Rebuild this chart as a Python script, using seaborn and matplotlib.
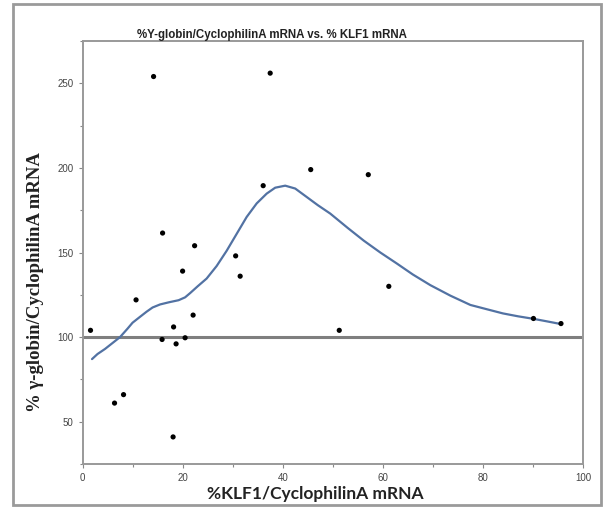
import pandas as pd
import seaborn as sns
import matplotlib.pyplot as plt
from matplotlib.patches import Rectangle
from matplotlib.ticker import MultipleLocator

# scatter points
klf1 = [14.2, 37.5, 45.6, 36.1, 16.0, 22.4, 30.6, 57.1, 61.2, 51.3, 90.1, 95.6,
        31.5, 20.0, 10.7, 22.1, 1.6, 18.2, 15.9, 18.7, 20.5, 8.2, 6.4, 18.1]
globin = [254, 256, 199, 189.5, 161.5, 154, 148, 196, 130, 104, 111, 108,
          136, 139, 122, 113, 104, 106, 98.6, 96, 99.6, 66, 61, 41]

# smooth fitted curve
curve_x = [1.9, 3.0, 4.5, 6.0, 7.5, 9.0, 10.0, 11.5, 12.8, 14.0, 15.5, 17.3,
           19.2, 20.5, 21.5, 23.0, 24.8, 26.8, 28.8, 30.8, 32.8, 34.8, 36.8,
           38.5, 40.5, 42.5, 44.8, 47.0, 49.5, 53.0, 56.2, 59.5, 62.8, 66.0,
           69.5, 73.5, 77.5, 81.0, 84.0, 87.0, 90.1, 92.8, 95.6]
curve_y = [87, 90, 93, 96.5, 100, 105, 108.5, 112, 115, 117.5, 119.3, 120.6,
           121.8, 123.5, 126, 130, 134.6, 142, 151, 161, 171, 179, 184.8,
           188.3, 189.5, 187.8, 182.8, 178, 173, 164.5, 157, 150, 143.5, 137,
           130.7, 124.5, 119, 116.3, 114, 112.3, 110.8, 109.3, 107.7]

pts = pd.DataFrame({'klf1': klf1, 'globin': globin})
fit = pd.DataFrame({'x': curve_x, 'y': curve_y})

sns.set_style('white')
plt.rcParams['font.family'] = ['Liberation Sans', 'DejaVu Sans']

fig = plt.figure(figsize=(6.1, 5.08), dpi=100)
ax = fig.add_axes([82.5 / 610, 1 - 464 / 508, 500.5 / 610, 423 / 508])

ax.axhline(100, color='#7f7f7f', lw=2.2, zorder=1)
sns.lineplot(data=fit, x='x', y='y', ax=ax, color='#5272a3', lw=1.6, zorder=2)
sns.scatterplot(data=pts, x='klf1', y='globin', ax=ax, color='black', s=14,
                edgecolor='none', zorder=3)

ax.set_xlim(0, 100)
ax.set_ylim(25, 275)
ax.xaxis.set_major_locator(MultipleLocator(20))
ax.xaxis.set_minor_locator(MultipleLocator(10))
ax.yaxis.set_major_locator(MultipleLocator(50))
ax.yaxis.set_minor_locator(MultipleLocator(25))
ax.set_yticks([50, 100, 150, 200, 250])
ax.tick_params(which='both', direction='out', length=3, width=0.8,
               color='#888888', labelsize=7, labelcolor='#444444',
               bottom=True, left=True)
ax.tick_params(which='minor', length=2)
for s in ax.spines.values():
    s.set_color('#999999')
    s.set_linewidth(1.4)
ax.set_xlabel('')
ax.set_ylabel('')

fig.text(272 / 610, 1 - 35 / 508, '%Y-globin/CyclophilinA mRNA vs. % KLF1 mRNA',
         ha='center', va='center', fontsize=8.3, fontweight='bold', color='#222222')
fig.text(36 / 610, 1 - 282 / 508, '% \u03b3-globin/CyclophilinA mRNA', rotation=90,
         ha='center', va='center', fontsize=13.5, fontweight='bold',
         family=['Liberation Serif', 'DejaVu Serif'], color='#222222')
fig.text(315 / 610, 1 - 494 / 508, '%KLF1/CyclophilinA mRNA', ha='center',
         va='center', fontsize=12.5, fontweight='bold', family=['Lato', 'DejaVu Sans'],
         color='#222222')

# outer frame of the original figure
fig.patches.append(Rectangle((13 / 610, 1 - 505 / 508), 588 / 610, 501 / 508,
                             transform=fig.transFigure, fill=False,
                             edgecolor='#9a9a9a', lw=2))

fig.savefig('out.png', dpi=100)
